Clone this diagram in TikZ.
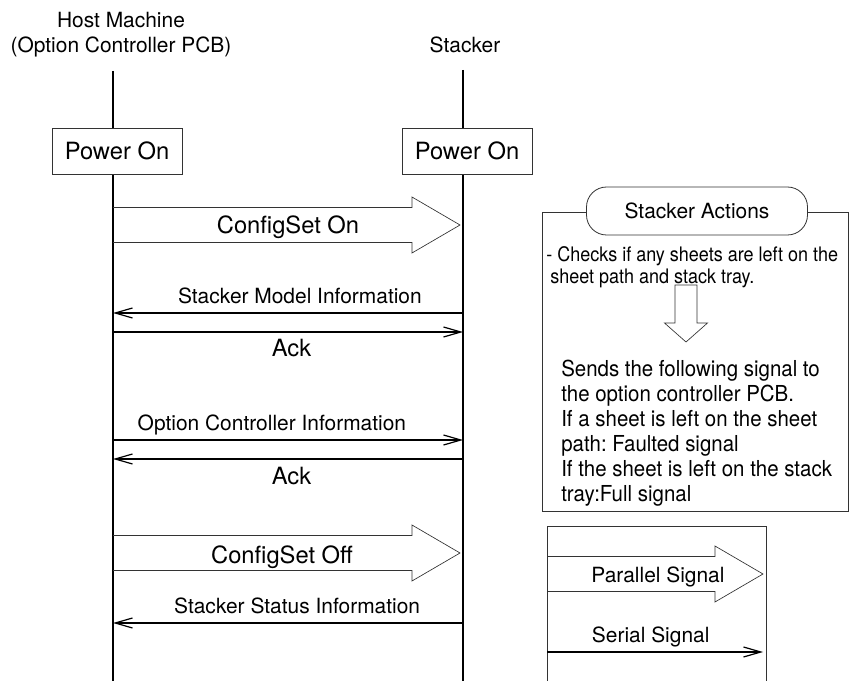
\documentclass[tikz,border=0pt]{standalone}
\usepackage{fontspec}
\setmainfont{TeX Gyre Heros}
\usetikzlibrary{arrows.meta,positioning}
\frenchspacing

\newcommand{\bigfont}{\fontsize{17.8pt}{20pt}\selectfont}
\newcommand{\midfont}{\fontsize{15.7pt}{18.75pt}\selectfont}
\newcommand{\smallfont}{\fontsize{15pt}{16.5pt}\selectfont\addfontfeatures{FakeStretch=0.9}}
\newcommand{\notefont}{\fontsize{16.5pt}{18.75pt}\selectfont\addfontfeatures{FakeStretch=0.93}}

% hollow block arrow starting at #1, body length #2
\newcommand{\fatsig}[2]{%
  \draw[fat] (#1) ++(0,-17.5) -- ++(#2,0) -- ++(0,-10.5) -- ++(48,28)
    -- ++(-48,28) -- ++(0,-10.5) -- ++(-#2,0);}

\begin{document}
\begin{tikzpicture}[x=0.75pt,y=-0.75pt,
  life/.style={line width=0.9pt},
  msg/.style={line width=0.9pt},
  fat/.style={line width=0.5pt,draw=black!80},
  frame/.style={draw=black!80,line width=0.6pt},
  pwr/.style={frame,fill=white,inner sep=0pt,minimum width=97.5pt,minimum height=34.5pt,font=\bigfont},
  lblup/.style={font=\midfont,anchor=base,yshift=7pt,inner sep=0pt},
  lbldn/.style={font=\bigfont,anchor=base,yshift=-18.75pt,inner sep=0pt},
  fatlbl/.style={font=\bigfont,anchor=base,inner sep=0pt},
  >={Straight Barb[length=13pt,width=7.5pt]}]
  \useasboundingbox (0,0) rectangle (851,681);

  % lifelines
  \node[font=\midfont,align=center,anchor=north,inner sep=0pt] (host) at (121,12)
       {Host Machine\\(Option Controller PCB)};
  \node[font=\midfont,anchor=base,inner sep=0pt] (stk) at (465,53) {Stacker};
  \coordinate (host-top) at (113,71);
  \coordinate (host-end) at (113,681);
  \coordinate (stk-top) at (463,70);
  \coordinate (stk-end) at (463,681);
  \draw[life] (host-top) -- (host-end);
  \draw[life] (stk-top) -- (stk-end);
  \node[pwr] (hpow) at (117,151) {Power On};
  \node[pwr] (spow) at (467,151) {Power On};

  \foreach \n/\y in {con/225,smi/313,ack/332,oci/440,aok/459,coff/553,ssi/623}{
    \coordinate (h-\n) at (113,\y);
    \coordinate (s-\n) at (463,\y);
  }

  % messages
  \fatsig{h-con}{299}
  \node[fatlbl] (con-lbl) at (288,234) {ConfigSet On};
  \draw[msg,<-] (h-smi) -- node[lblup,pos=0.534] (smi-lbl) {Stacker Model Information} (s-smi);
  \draw[msg,->] (h-ack) -- node[lbldn,pos=0.51] (ack-lbl) {Ack} (s-ack);
  \draw[msg,->] (h-oci) -- node[lblup,pos=0.454] (oci-lbl) {Option Controller Information} (s-oci);
  \draw[msg,<-] (h-aok) -- node[lbldn,pos=0.51] (aok-lbl) {Ack} (s-aok);
  \fatsig{h-coff}{299}
  \node[fatlbl] (coff-lbl) at (282,563) {ConfigSet Off};
  \draw[msg,<-] (h-ssi) -- node[lblup,pos=0.526] (ssi-lbl) {Stacker Status Information} (s-ssi);

  % stacker actions
  \node[frame,minimum width=229.5pt,minimum height=224.25pt,inner sep=0pt] (act) at (695,361.5) {};
  \node[frame,fill=white,rounded corners=15pt,minimum width=165.75pt,minimum height=36pt,
        font=\midfont] (act-title) at (697,211) {Stacker Actions};
  \node[font=\smallfont,align=left,anchor=north west,inner sep=0pt] (act-chk) at (546,246)
       {- Checks if any sheets are left on the\\\hspace{3pt}sheet path and stack tray.};
  \draw[fat] (686,285) ++(-11,0) -- ++(0,38) -- ++(-10.5,0) -- ++(21.5,19)
    -- ++(21.5,-19) -- ++(-10.5,0) -- ++(0,-38) -- cycle;
  \node[font=\notefont,align=left,anchor=north west,inner sep=0pt] (act-send) at (561,360)
       {Sends the following signal to\\the option controller PCB.\\
        If a sheet is left on the sheet\\path: Faulted signal\\
        If the sheet is left on the stack\\tray:Full signal};

  % legend
  \draw[frame] (547,681) -- (547,526) -- (766,526) -- (766,681);
  \coordinate (par-a) at (547,574);
  \fatsig{par-a}{168}
  \node[fatlbl,font=\midfont] (par-lbl) at (658,582) {Parallel Signal};
  \coordinate (ser-a) at (547,652);
  \coordinate (ser-b) at (763,652);
  \draw[msg,->] (ser-a) -- node[lblup,pos=0.48] (ser-lbl) {Serial Signal} (ser-b);
\end{tikzpicture}
\end{document}
